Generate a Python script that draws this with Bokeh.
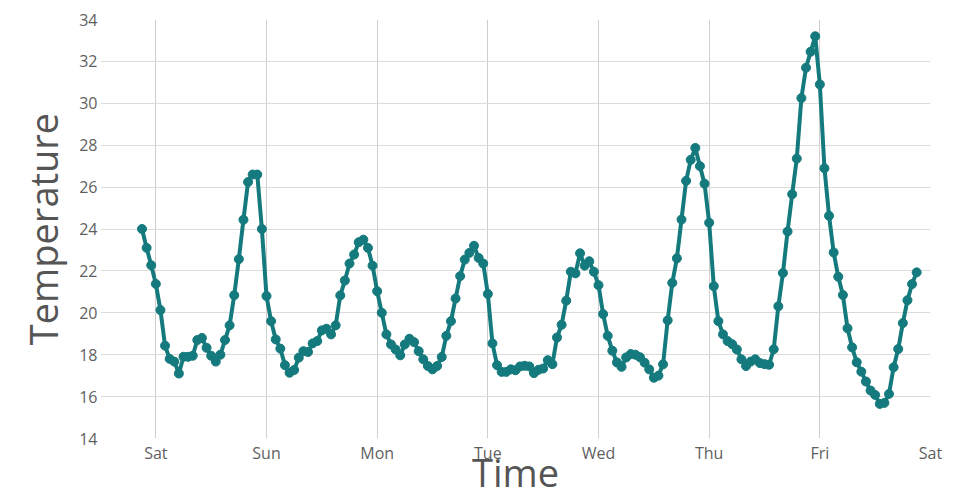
import pandas as pd
from bokeh.plotting import figure
from bokeh.models import ColumnDataSource, Range1d, FixedTicker, DatetimeTickFormatter
from bokeh.embed import file_html
from bokeh.resources import INLINE

# ---- data ----
start_time = "2023-01-06 21:00"   # Friday 21:00, hourly readings
temperature = [
    24.0, 23.1, 22.27,
    21.38, 20.13, 18.43, 17.8, 17.67, 17.1, 17.9, 17.9, 17.95, 18.7, 18.8, 18.33,
    17.95, 17.67, 18.0, 18.7, 19.4, 20.84, 22.56, 24.44, 26.24, 26.6, 26.6, 24.0,
    20.8, 19.6, 18.73, 18.29, 17.5, 17.14, 17.27, 17.86, 18.17, 18.13, 18.54, 18.65,
    19.16, 19.24, 18.97, 19.4, 20.83, 21.54, 22.35, 22.78, 23.37, 23.49, 23.1, 22.25,
    21.03, 20.0, 18.97, 18.49, 18.25, 17.97, 18.49, 18.76, 18.6, 18.17, 17.78, 17.46,
    17.3, 17.46, 17.89, 18.9, 19.6, 20.68, 21.75, 22.54, 22.86, 23.2, 22.62, 22.35,
    20.9, 18.54, 17.5, 17.18, 17.18, 17.3, 17.26, 17.44, 17.47, 17.44, 17.12, 17.28,
    17.34, 17.74, 17.55, 18.82, 19.43, 20.58, 21.96, 21.88, 22.84, 22.25, 22.46, 21.96,
    21.32, 19.94, 18.9, 18.19, 17.63, 17.42, 17.87, 18.03, 18.0, 17.88, 17.62, 17.3,
    16.9, 17.0, 17.54, 19.64, 21.43, 22.6, 24.45, 26.3, 27.3, 27.87, 27.0, 26.16,
    24.3, 21.27, 19.6, 18.97, 18.65, 18.5, 18.25, 17.78, 17.46, 17.67, 17.78, 17.6,
    17.55, 17.52, 18.26, 20.31, 21.9, 23.88, 25.66, 27.36, 30.25, 31.7, 32.46, 33.2,
    30.9, 26.9, 24.63, 22.88, 21.72, 20.85, 19.26, 18.35, 17.64, 17.19, 16.72, 16.29,
    16.08, 15.65, 15.7, 16.13, 17.4, 18.27, 19.51, 20.6, 21.37, 21.93,
]
day_ticks = ["2023-01-07", "2023-01-08", "2023-01-09", "2023-01-10",
             "2023-01-11", "2023-01-12", "2023-01-13", "2023-01-14"]
y_ticks = [14, 16, 18, 20, 22, 24, 26, 28, 30, 32, 34]

times = pd.date_range(start_time, periods=len(temperature), freq="h")
src = ColumnDataSource(data=dict(time=times, temp=temperature))

TEAL = "#157a7d"
FONT = "Open Sans"

p = figure(width=960, height=500, x_axis_type="datetime",
           x_range=Range1d(start=pd.Timestamp("2023-01-06 12:00"), end=pd.Timestamp(day_ticks[-1])),
           y_range=Range1d(14, 34),
           output_backend="svg", toolbar_location=None,
           min_border_left=100, min_border_right=30, min_border_top=19, min_border_bottom=61)

p.line(x="time", y="temp", source=src, line_width=4, line_color=TEAL, line_join="round")
p.scatter(x="time", y="temp", source=src, size=9, fill_color=TEAL, line_color=TEAL)

tick_ms = [pd.Timestamp(d).value // 10**6 for d in day_ticks]
p.xaxis.ticker = FixedTicker(ticks=tick_ms)
p.xaxis.formatter = DatetimeTickFormatter(days="%a", hours="%a", months="%a", years="%a",
                                          minutes="%a", hourmin="%a", seconds="%a")
p.yaxis.ticker = FixedTicker(ticks=y_ticks)

for ax in (p.xaxis[0], p.yaxis[0]):
    ax.axis_line_color = None
    ax.major_tick_line_color = None
    ax.minor_tick_line_color = None
    ax.major_tick_out = 0
    ax.major_tick_in = 0
    ax.minor_tick_out = 0
    ax.minor_tick_in = 0
    ax.major_label_text_font = FONT
    ax.major_label_text_font_size = "16px"
    ax.major_label_text_color = "#5f5f5f"
    ax.axis_label_text_font = FONT
    ax.axis_label_text_font_size = "38px"
    ax.axis_label_text_color = "#555555"
    ax.axis_label_text_font_style = "normal"

p.xaxis.axis_label = "Time"
p.yaxis.axis_label = "Temperature"
p.xaxis.major_label_standoff = 3
p.yaxis.major_label_standoff = 3
p.xaxis.axis_label_standoff = -21
p.yaxis.axis_label_standoff = 7

p.xgrid.grid_line_color = "#cfcfcf"
p.ygrid.grid_line_color = "#dcdcdc"
p.xgrid.grid_line_width = 1
p.ygrid.grid_line_width = 1
p.outline_line_color = None
p.background_fill_color = "white"
p.border_fill_color = "white"

open("out.html", "w").write(file_html(p, INLINE))
